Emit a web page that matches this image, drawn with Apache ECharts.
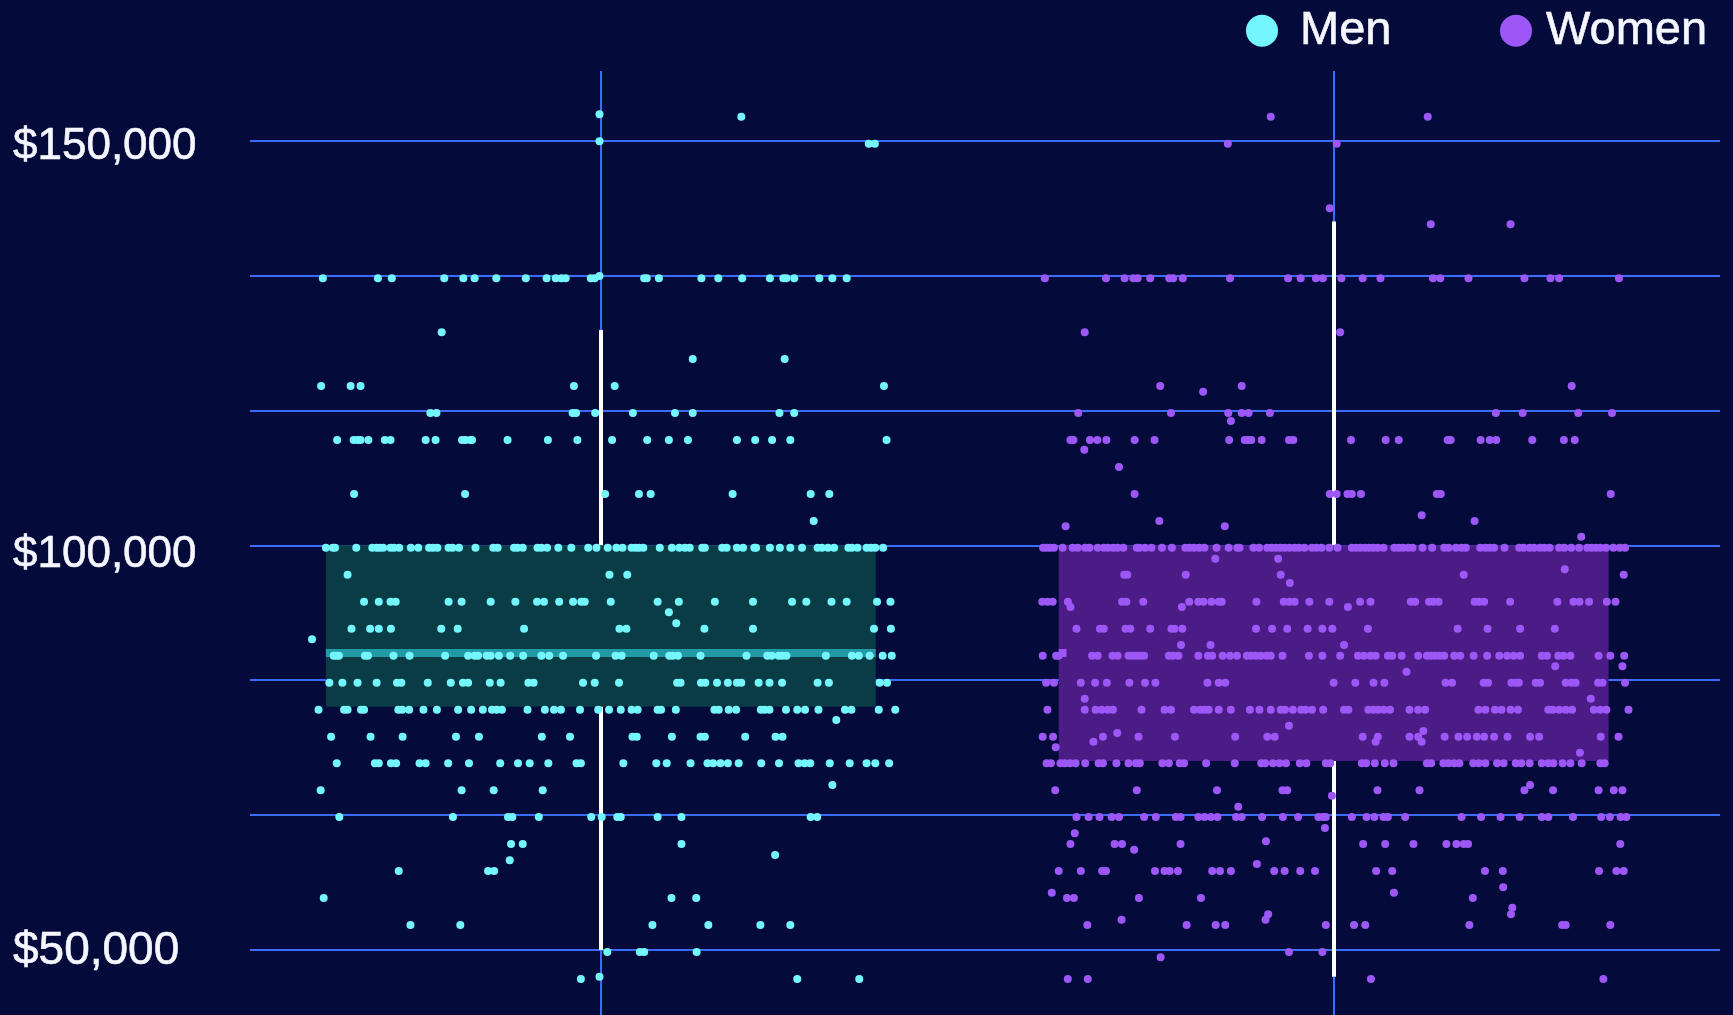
<!DOCTYPE html>
<html>
<head>
<meta charset="utf-8">
<style>html,body{margin:0;padding:0;background:#040b3b}#c{width:1733px;height:1015px}</style>
<script src="https://cdn.jsdelivr.net/npm/echarts@6/dist/echarts.min.js"></script>
</head>
<body>
<div id="c"></div>
<script>
// Rows: [salary, [horizontal jitter readings]]
const menRows = [
[153259,[829]],
[152961,[1156]],
[149920,[829]],
[149625,[1450,1464]],
[133280,[829]],
[133000,[191,318,350,471,515,541,591,659,707,728,741,751,809,818,932,938,966,1064,1103,1158,1222,1253,1260,1278,1336,1366,1399]],
[126323,[465]],
[123024,[1044,1256]],
[119688,[187,255,278,770,864,1485]],
[116352,[439,453,767,775,819,906,1003,1044,1244,1278]],
[113016,[224,262,271,278,296,334,347,428,451,512,520,531,535,617,710,778,858,939,989,1033,1146,1188,1227,1269,1491]],
[106344,[263,519,842,920,947,1136,1316,1359]],
[103008,[1323]],
[99708,[198,214,219,268,305,315,322,330,347,355,367,394,411,436,445,455,481,490,505,543,584,594,632,640,652,686,695,708,734,764,803,822,848,868,882,903,912,920,930,968,996,1013,1026,1037,1066,1072,1112,1122,1146,1160,1186,1190,1222,1245,1269,1296,1332,1342,1356,1370,1403,1411,1424,1445,1455,1465,1483]],
[96373,[248,852,893]],
[93037,[286,320,347,359,481,511,578,635,685,701,736,768,787,795,855,963,1012,1095,1183,1273,1306,1364,1399,1469,1500]],
[91720,[989]],
[90360,[1006]],
[89701,[257,300,320,348,464,502,655,875,891,1071,1183,1462,1501]],
[88390,[166]],
[86365,[216,222,228,288,295,354,391,473,526,541,549,569,578,597,623,653,695,713,745,821,866,880,954,990,998,1010,1062,1168,1216,1226,1242,1250,1260,1351,1411,1427,1452,1482,1503]],
[83029,[206,236,271,315,362,372,433,486,514,526,576,601,665,677,791,818,874,1008,1016,1063,1073,1100,1125,1146,1156,1196,1221,1250,1332,1358,1475,1492]],
[79693,[181,240,248,279,286,365,374,390,423,454,503,533,560,581,592,604,663,703,724,740,784,826,851,878,903,917,963,971,1005,1094,1104,1127,1144,1201,1210,1221,1259,1285,1303,1334,1395,1410,1473,1511]],
[78420,[1375]],
[76357,[210,301,375,498,551,696,761,905,915,996,1062,1072,1165,1235,1251]],
[73068,[223,311,320,348,360,414,428,480,528,600,641,668,711,776,786,884,960,984,1039,1078,1091,1108,1125,1150,1202,1243,1288,1302,1315,1360,1406,1445,1465,1497]],
[70387,[1366]],
[69732,[186,511,585,698]],
[66433,[229,491,618,628,689,810,834,870,878,963,1018,1316,1331]],
[63097,[625,652,1018]],
[61738,[1234]],
[61083,[622]],
[59761,[366,572,586]],
[56425,[193,995,1052]],
[53089,[393,508,951,1080,1200,1269]],
[49753,[847,922,932,1053]],
[46700,[829]],
[46417,[786,1285,1428]]
];
const womenRows = [
[152961,[625,987]],
[149625,[526,777]],
[141640,[761]],
[139664,[994,1178]],
[133000,[104,245,288,308,318,347,391,400,422,531,665,694,729,745,788,837,878,999,1016,1081,1210,1270,1290,1428]],
[126323,[196,785]],
[119688,[370,558,1319]],
[118980,[469]],
[116352,[181,395,527,558,574,623,1144,1206,1334,1412]],
[115365,[533]],
[113016,[163,170,208,225,246,311,357,529,565,572,580,604,667,677,810,890,920,1033,1040,1109,1130,1145,1228,1301,1326]],
[111820,[195]],
[109680,[275]],
[106344,[311,761,777,802,812,833,1008,1017,1409]],
[103710,[973]],
[103008,[368,1095]],
[102350,[152,519]],
[101070,[1341]],
[99708,[100,108,116,125,145,168,180,197,207,226,240,250,262,272,285,316,322,335,350,374,397,428,438,448,460,472,500,528,548,553,585,598,617,627,637,647,657,668,680,690,703,720,730,742,760,779,812,822,832,842,852,862,872,885,910,920,930,942,952,975,997,1025,1035,1052,1065,1075,1108,1120,1130,1140,1164,1198,1208,1222,1232,1246,1256,1268,1290,1302,1318,1336,1355,1365,1375,1385,1398,1415,1430,1442]],
[98350,[497,642]],
[97040,[1303]],
[96373,[287,294,429,648,1070,1439]],
[95350,[669]],
[93037,[98,110,122,157,282,292,331,437,458,470,488,505,512,592,655,668,680,714,760,831,855,948,958,990,1000,1012,1095,1105,1117,1177,1286,1323,1337,1359,1400,1420]],
[92380,[163,420,803]],
[89701,[177,231,240,290,301,347,396,403,421,591,628,663,710,744,767,849,1056,1125,1200,1280]],
[87690,[418,486,794]],
[86365,[99,130,136,213,226,260,272,297,306,315,324,333,390,400,412,458,480,490,514,531,547,570,580,590,602,615,625,652,713,744,785,826,840,855,867,895,905,927,965,985,995,1005,1015,1025,1048,1062,1093,1124,1152,1170,1185,1200,1250,1262,1288,1300,1316,1381,1408,1440]],
[85053,[1281,1436]],
[84387,[938]],
[83029,[107,125,187,220,247,299,335,359,479,505,520,770,820,862,887,1028,1043,1116,1126,1180,1190,1197,1236,1246,1305,1318,1328,1380,1390,1442]],
[81050,[196,1363]],
[79693,[110,196,221,235,249,261,327,380,395,448,462,472,482,505,533,577,599,625,648,658,676,695,705,720,746,794,804,850,862,873,886,900,945,965,981,1104,1120,1142,1157,1178,1195,1265,1275,1290,1305,1320,1370,1385,1399,1450]],
[77720,[667]],
[77060,[977]],
[76810,[271]],
[76357,[99,123,238,320,404,543,617,634,837,872,945,965,1026,1058,1078,1100,1117,1140,1171,1223,1244,1386,1427]],
[75740,[216,867,973]],
[75040,[129]],
[74380,[1338]],
[73068,[108,118,140,150,162,175,197,228,238,269,297,314,323,375,390,415,425,476,542,603,612,630,645,660,692,707,752,762,835,845,865,888,908,985,995,1023,1035,1048,1060,1092,1105,1120,1147,1162,1190,1203,1222,1250,1265,1277,1298,1316,1342,1385,1395]],
[70387,[1223]],
[69732,[128,316,501,652,663,871,968,1210,1276,1381,1416,1436]],
[69065,[766]],
[67706,[550]],
[66433,[177,205,230,258,275,333,360,406,417,458,472,487,502,545,558,605,653,688,735,745,752,812,846,864,885,895,935,1065,1110,1155,1199,1250,1265,1322,1387,1407,1432,1445]],
[65075,[750]],
[64420,[173]],
[63430,[614]],
[63097,[163,265,282,417,838,889,954,1030,1053,1070,1080,1431]],
[62393,[310]],
[60630,[593]],
[59761,[136,187,236,245,358,380,392,411,490,508,533,633,657,693,727,868,905,1119,1160,1382,1422,1439]],
[57745,[1161]],
[57080,[120,909]],
[56425,[155,171,321,464,1091]],
[55230,[1182]],
[54410,[619,1179]],
[53745,[281,613]],
[53089,[202,431,498,520,752,817,843,1083,1297,1305,1408]],
[49753,[667,744]],
[49098,[371]],
[46417,[157,203,856,1392]]
];
const groups = ['Men','Women'];
const groupCentre = [832,2522];
const womenShift = 1752;
const whiskerLow = [50000,46700];
const boxLow = [80060,73350];
const median = [86700,86700];
const boxHigh = [100000,100000];
const whiskerHigh = [126600,140000];
const yTickLabels = [49865,98765,149185];

const BG='#040b3b',GRID='#3a6cff',MEN='#74f6ff',WOMEN='#9c57f6',TXT='#f6f6ff';
const BOX=['#0a3c45','#4b1c85'],BAND=['#229aa6','#9c57f6'],BANDW=[1268,18];

const toPts=(rows,shift)=>rows.flatMap(r=>r[1].map(x=>[x+shift,r[0]]));
const boxData=groups.map((g,i)=>[i,groupCentre[i],whiskerLow[i],boxLow[i],median[i],boxHigh[i],whiskerHigh[i]]);

function renderBox(params,api){
  const i=api.value(0),c=api.value(1),half=634;
  const P=(x,y)=>api.coord([x,y]);
  const rect=(a,b,fill)=>({type:'rect',shape:{x:Math.min(a[0],b[0]),y:Math.min(a[1],b[1]),width:Math.abs(a[0]-b[0]),height:Math.abs(a[1]-b[1])},style:{fill}});
  const lt=P(c,158610),lb=P(c,41000);
  const wt=P(c,api.value(6)),wb=P(c,api.value(2));
  const bl=P(c-half,api.value(3)),br=P(c+half,api.value(5));
  const m=P(c-half,api.value(4));
  const bandH=8;
  const bandW=BANDW[i]/2.306;
  const mid=Math.round(lt[0]);
  return {type:'group',children:[
    {type:'rect',shape:{x:mid-1,y:lt[1],width:2,height:lb[1]-lt[1]},style:{fill:GRID}},
    {type:'rect',shape:{x:mid-2,y:wt[1],width:4,height:wb[1]-wt[1]},style:{fill:'#ffffff'}},
    rect(bl,br,BOX[i]),
    {type:'rect',shape:{x:m[0],y:m[1]-bandH/2,width:bandW,height:bandH},style:{fill:BAND[i]}}
  ]};
}

const legendBase={top:7,itemWidth:32,itemHeight:32,padding:0,icon:'circle',selectedMode:false};
const legendText=pad=>({color:TXT,fontSize:47,lineHeight:32,padding:[5,0,0,pad],fontFamily:'"Liberation Sans"',textBorderColor:TXT,textBorderWidth:0.6});
const labelStyle=size=>({fontSize:size,color:TXT,fontFamily:'"Liberation Sans"',textBorderColor:TXT,textBorderWidth:0.6});
const chart=echarts.init(document.getElementById('c'),null,{renderer:'canvas'});
chart.setOption({
  animation:false,
  backgroundColor:BG,
  textStyle:{fontFamily:'"Liberation Sans"'},
  legend:[
    Object.assign({},legendBase,{left:1246,data:['Men'],textStyle:legendText(17)}),
    Object.assign({},legendBase,{left:1500,data:['Women'],textStyle:legendText(9)})
  ],
  grid:{left:250,width:1470,top:5.8,height:1079.1,outerBoundsMode:'none',containLabel:false},
  xAxis:{type:'value',min:23,max:3413,show:false,splitLine:{show:false}},
  yAxis:{type:'value',min:100000/3,max:500000/3,interval:50000/3,
    axisLine:{show:false},axisTick:{show:false},
    splitLine:{show:true,showMinLine:false,showMaxLine:false,lineStyle:{color:GRID,width:2}},
    axisLabel:{customValues:yTickLabels,align:'left',margin:237,color:TXT,fontSize:44,fontFamily:'"Liberation Sans"',
      rich:{a:labelStyle(44),b:labelStyle(46)},
      formatter:v=>{const n=Math.round(v/50000)*50000;return '{'+(n===50000?'b':'a')+'|$'+n.toLocaleString('en-US')+'}';}}
  },
  series:[
    {type:'custom',name:'box',z:1,silent:true,clip:false,renderItem:renderBox,data:boxData,encode:{x:1,y:4}},
    {type:'scatter',name:'Men',z:3,silent:true,symbol:'circle',symbolSize:8,itemStyle:{color:MEN,opacity:1},data:toPts(menRows,0)},
    {type:'scatter',name:'Women',z:3,silent:true,symbol:'circle',symbolSize:8,itemStyle:{color:WOMEN,opacity:1},data:toPts(womenRows,womenShift)}
  ]
});
</script>
</body>
</html>
